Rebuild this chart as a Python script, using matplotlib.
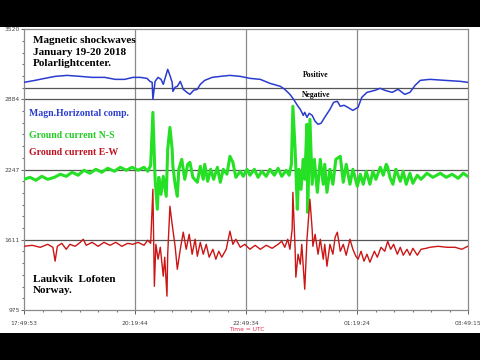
import numpy as np
import matplotlib.pyplot as plt
from matplotlib.patches import Rectangle

# time in minutes after 17:49:53 UTC
mag_t = [0, 15, 28, 42, 58, 76, 92, 109, 123, 136, 147, 157, 166, 170, 173, 174, 177, 181, 185, 188,
         192, 194, 197, 200, 201, 204, 207, 211, 215, 220, 224, 229, 234, 238, 244, 254, 265, 278, 292,
         305, 319, 332, 346, 352, 359, 364, 369, 373, 377, 379, 382, 385, 389, 393, 397, 401, 406, 413,
         418, 423, 427, 432, 437, 444, 451, 456, 463, 474, 481, 487, 497, 505, 514, 521, 528, 535, 548,
         568, 589, 599]
mag_v = [3038, 3056, 3074, 3092, 3101, 3092, 3083, 3083, 3065, 3065, 3083, 3083, 3074, 3047, 3038, 2884,
         3047, 3083, 3065, 3020, 3110, 3156, 3101, 3038, 2956, 2993, 3002, 3047, 2975, 2947, 2929, 2966,
         2975, 3020, 3056, 3083, 3092, 3101, 3092, 3074, 3065, 3029, 3002, 2975, 2929, 2884, 2830, 2793,
         2739, 2766, 2721, 2757, 2739, 2685, 2658, 2667, 2721, 2793, 2857, 2866, 2821, 2830, 2812, 2784,
         2812, 2902, 2947, 2966, 2984, 2966, 2947, 2975, 2929, 2947, 3011, 3056, 3065, 3056, 3047, 3038]

ns_t = [0, 8, 16, 24, 32, 41, 49, 57, 65, 73, 81, 89, 97, 105, 113, 122, 130, 138, 146, 154, 162, 167,
        171, 174, 177, 180, 182, 185, 188, 192, 194, 197, 200, 201, 204, 207, 209, 213, 217, 221, 224,
        228, 234, 238, 242, 244, 248, 252, 256, 261, 265, 269, 274, 278, 282, 286, 292, 296, 301, 305,
        311, 316, 321, 327, 332, 338, 343, 348, 354, 358, 361, 363, 366, 369, 371, 374, 377, 379, 382,
        383, 386, 389, 392, 396, 400, 404, 406, 409, 413, 417, 421, 427, 431, 435, 440, 444, 450, 454,
        458, 462, 467, 471, 475, 481, 485, 489, 491, 494, 498, 502, 508, 512, 516, 521, 525, 531, 536,
        544, 552, 562, 570, 578, 586, 593, 599]
ns_v = [2159, 2177, 2150, 2186, 2159, 2177, 2205, 2186, 2223, 2196, 2241, 2214, 2250, 2223, 2259, 2232,
        2268, 2241, 2268, 2241, 2268, 2232, 2286, 2766, 2159, 1888, 2177, 2023, 2186, 2005, 2431, 2630,
        2431, 2277, 2114, 2005, 2250, 2340, 2159, 2295, 2313, 2177, 2132, 2277, 2159, 2295, 2141, 2250,
        2159, 2268, 2132, 2250, 2205, 2368, 2313, 2177, 2232, 2186, 2250, 2196, 2250, 2177, 2232, 2186,
        2250, 2196, 2259, 2186, 2241, 2196, 2295, 2821, 2431, 1888, 2250, 2068, 2340, 2159, 2658, 1860,
        2703, 2114, 2340, 2041, 2340, 2114, 2295, 2041, 2250, 2114, 2340, 2368, 2132, 2295, 2114, 2250,
        2096, 2205, 2114, 2232, 2114, 2232, 2159, 2268, 2196, 2295, 2268, 2177, 2114, 2250, 2141, 2232,
        2114, 2214, 2123, 2196, 2159, 2214, 2177, 2214, 2177, 2205, 2168, 2214, 2186]

ew_t = [0, 11, 22, 32, 39, 42, 45, 51, 57, 62, 69, 76, 80, 84, 92, 100, 108, 116, 124, 132, 140, 147,
        154, 162, 167, 171, 174, 176, 178, 181, 184, 188, 190, 193, 194, 197, 200, 204, 207, 211, 215,
        219, 223, 227, 231, 234, 238, 242, 246, 250, 255, 259, 263, 267, 273, 278, 282, 286, 292, 298,
        305, 312, 319, 327, 335, 343, 348, 352, 356, 359, 362, 363, 366, 367, 370, 373, 375, 379, 382,
        385, 386, 389, 390, 393, 397, 400, 404, 406, 409, 413, 417, 420, 423, 427, 431, 435, 440, 444,
        448, 451, 455, 459, 463, 467, 473, 477, 482, 487, 491, 495, 499, 504, 508, 512, 517, 521, 525,
        531, 536, 543, 548, 559, 571, 582, 591, 599]
ew_v = [1552, 1561, 1543, 1570, 1543, 1417, 1552, 1579, 1525, 1570, 1552, 1588, 1616, 1561, 1588, 1552,
        1588, 1561, 1588, 1552, 1579, 1570, 1588, 1561, 1607, 1579, 2069, 1190, 1570, 1435, 1543, 1281,
        1453, 1100, 1480, 1915, 1752, 1552, 1344, 1525, 1680, 1525, 1661, 1480, 1616, 1462, 1588, 1480,
        1570, 1453, 1525, 1435, 1507, 1453, 1525, 1689, 1570, 1616, 1543, 1570, 1525, 1561, 1525, 1561,
        1534, 1570, 1598, 1543, 1616, 1525, 1707, 2041, 1525, 1272, 1480, 1390, 1570, 1163, 1616, 1888,
        1978, 1707, 1552, 1661, 1480, 1616, 1435, 1570, 1371, 1570, 1480, 1634, 1680, 1507, 1570, 1471,
        1616, 1525, 1462, 1435, 1507, 1417, 1480, 1408, 1507, 1453, 1543, 1507, 1598, 1525, 1570, 1480,
        1543, 1471, 1525, 1471, 1534, 1471, 1525, 1534, 1543, 1552, 1543, 1543, 1525, 1552]

x_ticks = [0, 149.85, 299.7, 449.55, 599.4]
x_labels = ['17:49:53', '20:19:44', '22:49:34', '01:19:24', '03:49:15']
y_ticks = [975, 1611, 2247, 2884, 3520]
zero_level = 2990

serif = 'Liberation Serif'

fig = plt.figure(figsize=(4.8, 3.6), dpi=100, facecolor='black')
fig.patches.append(Rectangle((0, 0.075), 1, 0.85, transform=fig.transFigure,
                             facecolor='white', zorder=-1))
ax = fig.add_axes([0.05, 0.139, 0.925, 0.78])
ax.set_zorder(2)

for v in x_ticks[1:-1]:
    ax.axvline(v, color='#8a8a8a', lw=0.9, zorder=1)
for v in y_ticks[1:-1] + [zero_level]:
    ax.axhline(v, color='#555555', lw=0.9, zorder=1)

ax.plot(mag_t, mag_v, color='#2a3ccf', lw=1.1, zorder=3)
ax.plot(ns_t, ns_v, color='#25e025', lw=2.2, zorder=3)
ax.plot(ew_t, ew_v, color='#cc1515', lw=1.0, zorder=4)

ax.set_xlim(0, 599.4)
ax.set_ylim(975, 3520)
ax.set_xticks(x_ticks)
ax.set_xticklabels(x_labels)
ax.set_yticks(y_ticks)
ax.set_xticks(np.arange(0, 599.4, 149.85 / 6), minor=True)
ax.set_yticks(np.arange(975, 3520, 636.25 / 6), minor=True)
ax.tick_params(which='major', labelsize=4.3, colors='#444444', length=3, width=0.6)
ax.tick_params(axis='x', which='major', pad=5)
ax.tick_params(axis='y', which='major', pad=1, length=2)
ax.tick_params(which='minor', length=1.2, width=0.8, colors='#777777')
for s in ax.spines.values():
    s.set_color('#8a8a8a')
    s.set_linewidth(0.9)

title_font = {'family': serif, 'weight': 'bold', 'size': 8, 'color': 'black'}
ax.text(0.02, 0.975, 'Magnetic shockwaves\nJanuary 19-20 2018\nPolarlightcenter.',
        transform=ax.transAxes, va='top', ha='left', linespacing=1.35, fontdict=title_font)
ax.text(0.011, 0.70, 'Magn.Horizontal comp.', transform=ax.transAxes, va='center',
        fontdict={'family': serif, 'weight': 'bold', 'size': 7, 'color': '#2a3ccf'})
ax.text(0.011, 0.623, 'Ground current N-S', transform=ax.transAxes, va='center',
        fontdict={'family': serif, 'weight': 'bold', 'size': 7, 'color': '#22cc22'})
ax.text(0.011, 0.562, 'Ground current E-W', transform=ax.transAxes, va='center',
        fontdict={'family': serif, 'weight': 'bold', 'size': 7, 'color': '#c01020'})
small = {'family': serif, 'weight': 'bold', 'size': 5.5, 'color': 'black'}
ax.text(0.658, 0.836, 'Positive', transform=ax.transAxes, ha='center', va='center', fontdict=small)
ax.text(0.658, 0.765, 'Negative', transform=ax.transAxes, ha='center', va='center', fontdict=small)
ax.text(0.02, 0.125, 'Laukvik  Lofoten\nNorway.', transform=ax.transAxes, va='top',
        linespacing=1.3, fontdict=title_font)
ax.text(0.502, -0.071, 'Time = UTC', transform=ax.transAxes, ha='center', va='center',
        fontsize=4.3, color='#e03050')

fig.savefig('out.png', dpi=100, facecolor='black')
